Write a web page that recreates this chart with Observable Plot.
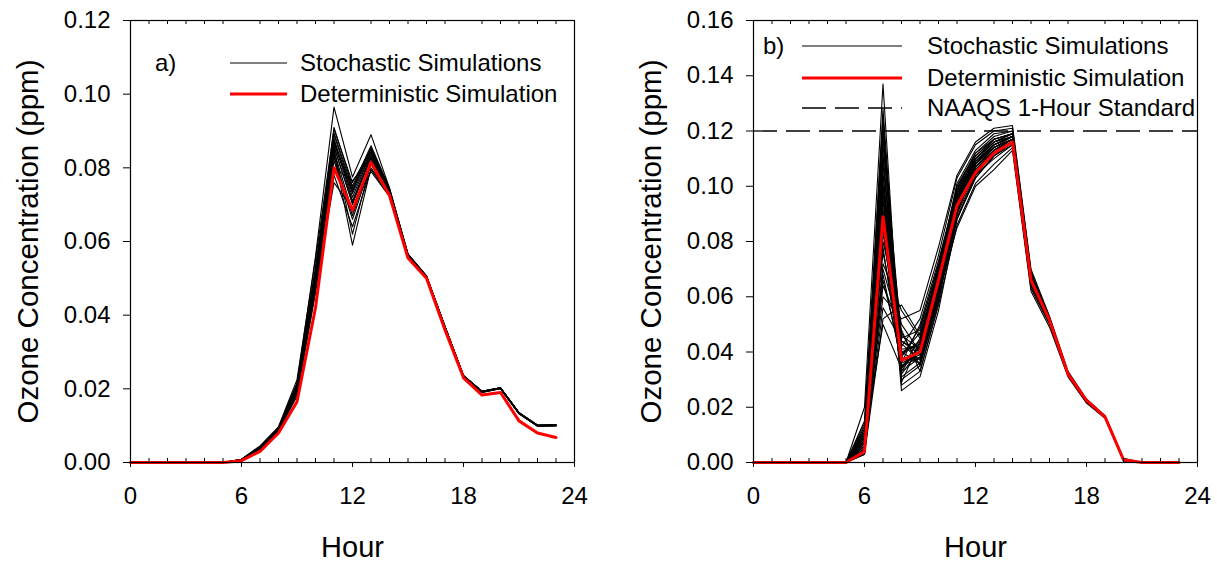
<!DOCTYPE html>
<html><head><meta charset="utf-8">
<script src="https://cdn.jsdelivr.net/npm/d3@7"></script>
<script src="https://cdn.jsdelivr.net/npm/@observablehq/plot@0.6"></script>
<style>
body{margin:0;background:#fff}
#wrap{position:relative;width:1217px;height:565px;overflow:hidden;background:#fff}
#wrap svg{position:absolute;top:0}
</style>
</head><body><div id="wrap"></div>
<script>
// ---------- DATA ----------
const hours = [0,1,2,3,4,5,6,7,8,9,10,11,12,13,14,15,16,17,18,19,20,21,22,23];
const majorHours = [0,6,12,18,24];
const minorHours = [1,2,3,4,5,7,8,9,10,11,13,14,15,16,17,19,20,21,22,23];
const yTicksA = [0,0.02,0.04,0.06,0.08,0.10,0.12];
const yTicksB = [0,0.02,0.04,0.06,0.08,0.10,0.12,0.14,0.16];
const naaqsStandard = 0.12;
const xTitle = "Hour";
const yTitle = "Ozone Concentration (ppm)";
const legendA = ["Stochastic Simulations","Deterministic Simulation"];
const legendB = ["Stochastic Simulations","Deterministic Simulation","NAAQS 1-Hour Standard"];

// Panel a) deterministic
const detA = [0,0,0,0,0,0,0.0005,0.0030,0.0080,0.0165,0.0420,0.0800,0.0685,0.0815,0.0725,0.0555,0.0500,0.0360,0.0230,0.0183,0.0190,0.0113,0.0080,0.0068];
// Panel a) stochastic
const stochA = [
 [0,0,0,0,0,0,0.0008,0.0042,0.0095,0.0215,0.0560,0.0965,0.0775,0.0890,0.0745,0.0566,0.0507,0.0370,0.0236,0.0193,0.0203,0.0135,0.0101,0.0102],
 [0,0,0,0,0,0,0.0007,0.0038,0.0090,0.0205,0.0500,0.0840,0.0590,0.0800,0.0730,0.0562,0.0504,0.0368,0.0235,0.0192,0.0202,0.0134,0.0100,0.0101],
 [0,0,0,0,0,0,0.0009,0.0045,0.0097,0.0225,0.0550,0.0905,0.0760,0.0850,0.0740,0.0565,0.0506,0.0369,0.0236,0.0193,0.0203,0.0135,0.0101,0.0102],
 [0,0,0,0,0,0,0.0008,0.0040,0.0093,0.0210,0.0520,0.0880,0.0720,0.0840,0.0735,0.0563,0.0505,0.0368,0.0235,0.0192,0.0202,0.0134,0.0100,0.0101],
 [0,0,0,0,0,0,0.0007,0.0037,0.0088,0.0195,0.0490,0.0860,0.0700,0.0830,0.0730,0.0562,0.0504,0.0367,0.0234,0.0191,0.0201,0.0133,0.0099,0.0100],
 [0,0,0,0,0,0,0.0008,0.0041,0.0091,0.0200,0.0505,0.0870,0.0740,0.0845,0.0738,0.0564,0.0505,0.0368,0.0235,0.0192,0.0202,0.0134,0.0100,0.0101],
 [0,0,0,0,0,0,0.0006,0.0035,0.0086,0.0185,0.0470,0.0820,0.0660,0.0810,0.0728,0.0561,0.0503,0.0367,0.0234,0.0191,0.0201,0.0133,0.0099,0.0100],
 [0,0,0,0,0,0,0.0007,0.0038,0.0090,0.0198,0.0480,0.0845,0.0680,0.0820,0.0732,0.0562,0.0504,0.0368,0.0235,0.0192,0.0202,0.0134,0.0100,0.0101],
 [0,0,0,0,0,0,0.0008,0.0043,0.0094,0.0215,0.0530,0.0890,0.0735,0.0855,0.0742,0.0565,0.0506,0.0369,0.0236,0.0193,0.0203,0.0135,0.0101,0.0102],
 [0,0,0,0,0,0,0.0006,0.0034,0.0085,0.0180,0.0460,0.0780,0.0640,0.0795,0.0725,0.0560,0.0503,0.0366,0.0233,0.0190,0.0200,0.0132,0.0099,0.0100],
 [0,0,0,0,0,0,0.0007,0.0036,0.0087,0.0190,0.0475,0.0760,0.0690,0.0790,0.0722,0.0560,0.0503,0.0367,0.0234,0.0191,0.0201,0.0133,0.0099,0.0100],
 [0,0,0,0,0,0,0.0008,0.0040,0.0092,0.0205,0.0510,0.0910,0.0750,0.0860,0.0745,0.0565,0.0506,0.0369,0.0236,0.0193,0.0203,0.0135,0.0101,0.0102],
 [0,0,0,0,0,0,0.0007,0.0039,0.0089,0.0200,0.0495,0.0850,0.0620,0.0815,0.0730,0.0562,0.0504,0.0368,0.0235,0.0192,0.0202,0.0134,0.0100,0.0101],
 [0,0,0,0,0,0,0.0008,0.0042,0.0093,0.0210,0.0515,0.0875,0.0710,0.0835,0.0736,0.0563,0.0505,0.0368,0.0235,0.0192,0.0202,0.0134,0.0100,0.0101],
 [0,0,0,0,0,0,0.0007,0.0038,0.0090,0.0202,0.0500,0.0800,0.0765,0.0825,0.0733,0.0562,0.0504,0.0368,0.0235,0.0192,0.0202,0.0134,0.0100,0.0101],
 [0,0,0,0,0,0,0.0008,0.0041,0.0092,0.0208,0.0512,0.0865,0.0730,0.0842,0.0737,0.0563,0.0505,0.0368,0.0235,0.0192,0.0202,0.0134,0.0100,0.0101],
 [0,0,0,0,0,0,0.0007,0.0039,0.0091,0.0203,0.0498,0.0855,0.0705,0.0828,0.0734,0.0562,0.0504,0.0368,0.0235,0.0192,0.0202,0.0134,0.0100,0.0101],
 [0,0,0,0,0,0,0.0008,0.0042,0.0094,0.0212,0.0525,0.0895,0.0745,0.0852,0.0741,0.0564,0.0505,0.0369,0.0236,0.0193,0.0203,0.0135,0.0101,0.0102],
 [0,0,0,0,0,0,0.0007,0.0037,0.0088,0.0196,0.0485,0.0830,0.0670,0.0818,0.0731,0.0561,0.0504,0.0367,0.0234,0.0191,0.0201,0.0133,0.0099,0.0100]
];

// Panel b) deterministic
const detB = [0,0,0,0,0,0,0.0040,0.0890,0.0370,0.0400,0.0660,0.0930,0.1050,0.1120,0.1160,0.0660,0.0515,0.0320,0.0225,0.0165,0.0010,0,0,0];
// Panel b) stochastic
const stochB = [
 [0,0,0,0,0,0,0.020,0.137,0.030,0.035,0.060,0.090,0.108,0.115,0.118,0.067,0.0520,0.0325,0.0225,0.0168,0.0012,0,0,0],
 [0,0,0,0,0,0,0.015,0.125,0.028,0.033,0.058,0.092,0.106,0.113,0.117,0.066,0.0510,0.0320,0.0220,0.0165,0.0010,0,0,0],
 [0,0,0,0,0,0,0.012,0.118,0.033,0.038,0.065,0.095,0.110,0.116,0.119,0.068,0.0520,0.0320,0.0222,0.0166,0.0011,0,0,0],
 [0,0,0,0,0,0,0.008,0.110,0.035,0.040,0.068,0.097,0.109,0.114,0.117,0.066,0.0515,0.0320,0.0220,0.0165,0.0010,0,0,0],
 [0,0,0,0,0,0,0.006,0.105,0.026,0.031,0.055,0.088,0.104,0.112,0.116,0.065,0.0510,0.0320,0.0220,0.0165,0.0010,0,0,0],
 [0,0,0,0,0,0,0.010,0.100,0.040,0.043,0.070,0.100,0.112,0.118,0.120,0.069,0.0525,0.0325,0.0225,0.0167,0.0012,0,0,0],
 [0,0,0,0,0,0,0.004,0.095,0.038,0.036,0.062,0.094,0.107,0.113,0.116,0.066,0.0510,0.0320,0.0220,0.0165,0.0010,0,0,0],
 [0,0,0,0,0,0,0.005,0.090,0.045,0.048,0.072,0.098,0.111,0.117,0.119,0.067,0.0520,0.0320,0.0220,0.0165,0.0010,0,0,0],
 [0,0,0,0,0,0,0.007,0.085,0.032,0.041,0.066,0.091,0.106,0.112,0.116,0.065,0.0510,0.0320,0.0220,0.0165,0.0010,0,0,0],
 [0,0,0,0,0,0,0.003,0.080,0.050,0.040,0.063,0.093,0.105,0.111,0.115,0.064,0.0505,0.0315,0.0218,0.0163,0.0008,0,0,0],
 [0,0,0,0,0,0,0.009,0.076,0.042,0.052,0.075,0.103,0.115,0.120,0.121,0.069,0.0520,0.0325,0.0225,0.0168,0.0013,0,0,0],
 [0,0,0,0,0,0,0.004,0.072,0.055,0.045,0.068,0.096,0.108,0.114,0.118,0.066,0.0515,0.0320,0.0220,0.0165,0.0010,0,0,0],
 [0,0,0,0,0,0,0.006,0.068,0.036,0.050,0.073,0.099,0.110,0.116,0.118,0.067,0.0520,0.0320,0.0220,0.0165,0.0010,0,0,0],
 [0,0,0,0,0,0,0.003,0.064,0.048,0.033,0.057,0.086,0.101,0.108,0.114,0.063,0.0500,0.0315,0.0218,0.0163,0.0008,0,0,0],
 [0,0,0,0,0,0,0.005,0.060,0.052,0.055,0.078,0.104,0.116,0.121,0.122,0.070,0.0530,0.0330,0.0230,0.0170,0.0015,0,0,0],
 [0,0,0,0,0,0,0.004,0.056,0.044,0.039,0.064,0.090,0.104,0.110,0.115,0.064,0.0505,0.0315,0.0220,0.0165,0.0010,0,0,0],
 [0,0,0,0,0,0,0.003,0.052,0.057,0.046,0.069,0.095,0.107,0.113,0.117,0.066,0.0510,0.0320,0.0220,0.0165,0.0010,0,0,0],
 [0,0,0,0,0,0,0.008,0.050,0.034,0.042,0.061,0.085,0.100,0.106,0.113,0.062,0.0490,0.0310,0.0215,0.0160,0.0005,0,0,0],
 [0,0,0,0,0,0,0.011,0.115,0.043,0.037,0.067,0.099,0.112,0.117,0.119,0.068,0.0520,0.0322,0.0222,0.0166,0.0011,0,0,0],
 [0,0,0,0,0,0,0.007,0.098,0.029,0.044,0.071,0.097,0.109,0.115,0.118,0.067,0.0515,0.0320,0.0220,0.0165,0.0010,0,0,0],
 [0,0,0,0,0,0,0.013,0.108,0.047,0.035,0.059,0.089,0.103,0.111,0.116,0.065,0.0510,0.0320,0.0220,0.0165,0.0010,0,0,0],
 [0,0,0,0,0,0,0.009,0.088,0.039,0.047,0.070,0.101,0.113,0.119,0.120,0.068,0.0520,0.0320,0.0220,0.0165,0.0010,0,0,0],
 [0,0,0,0,0,0,0.010,0.122,0.036,0.039,0.064,0.094,0.108,0.115,0.118,0.067,0.0515,0.0320,0.0220,0.0165,0.0010,0,0,0],
 [0,0,0,0,0,0,0.006,0.112,0.031,0.036,0.061,0.092,0.107,0.114,0.117,0.066,0.0510,0.0320,0.0220,0.0165,0.0010,0,0,0],
 [0,0,0,0,0,0,0.012,0.104,0.041,0.042,0.067,0.096,0.109,0.116,0.118,0.067,0.0520,0.0320,0.0220,0.0165,0.0010,0,0,0],
 [0,0,0,0,0,0,0.008,0.096,0.037,0.038,0.063,0.092,0.106,0.113,0.117,0.066,0.0510,0.0320,0.0220,0.0165,0.0010,0,0,0],
 [0,0,0,0,0,0,0.005,0.092,0.034,0.045,0.069,0.098,0.110,0.116,0.119,0.068,0.0520,0.0320,0.0220,0.0165,0.0010,0,0,0],
 [0,0,0,0,0,0,0.009,0.083,0.040,0.036,0.060,0.088,0.103,0.111,0.116,0.065,0.0510,0.0320,0.0220,0.0165,0.0010,0,0,0],
 [0,0,0,0,0,0,0.007,0.078,0.033,0.043,0.066,0.095,0.108,0.115,0.118,0.067,0.0515,0.0320,0.0220,0.0165,0.0010,0,0,0],
 [0,0,0,0,0,0,0.004,0.070,0.046,0.041,0.065,0.094,0.107,0.114,0.117,0.066,0.0510,0.0320,0.0220,0.0165,0.0010,0,0,0],
 [0,0,0,0,0,0,0.014,0.120,0.044,0.040,0.067,0.097,0.110,0.117,0.119,0.068,0.0520,0.0320,0.0220,0.0165,0.0010,0,0,0],
 [0,0,0,0,0,0,0.006,0.066,0.038,0.049,0.071,0.100,0.111,0.117,0.119,0.067,0.0520,0.0320,0.0220,0.0165,0.0010,0,0,0],
 [0,0,0,0,0,0,0.011,0.128,0.035,0.038,0.062,0.091,0.105,0.112,0.116,0.066,0.0510,0.0320,0.0220,0.0165,0.0010,0,0,0],
 [0,0,0,0,0,0,0.007,0.101,0.039,0.044,0.068,0.096,0.109,0.115,0.118,0.067,0.0515,0.0320,0.0220,0.0165,0.0010,0,0,0]
];

// ---------- DRAW ----------
const FONT = "'Liberation Sans', Arial, Helvetica, sans-serif";
const H = 565, MT = 20, MB = 103;
const frameH = H - MT - MB;

function rowsOf(seriesList) {
  const rows = [];
  seriesList.forEach((vals, s) => vals.forEach((v, i) => rows.push({hour: hours[i], value: v, series: s})));
  return rows;
}

function panel({stoch, det, yMax, yTicks, width, marginLeft, marginRight, naaqs}) {
  return Plot.plot({
    width, height: H, marginLeft, marginRight, marginTop: MT, marginBottom: MB,
    style: {fontFamily: FONT, fontSize: "24px", color: "black", background: "transparent", overflow: "visible"},
    x: {domain: [0, 24]},
    y: {domain: [0, yMax]},
    marks: [
      Plot.lineY(rowsOf(stoch), {x: "hour", y: "value", z: "series", stroke: "black", strokeWidth: 1.1}),
      naaqs != null ? Plot.ruleY([naaqs], {stroke: "black", strokeWidth: 1.3, strokeDasharray: "24,9"}) : null,
      Plot.lineY(det.map((v, i) => ({hour: hours[i], value: v})), {x: "hour", y: "value", stroke: "#ff0000", strokeWidth: 3}),
      Plot.frame({stroke: "black", strokeWidth: 1.2}),
      Plot.axisX({ticks: majorHours, tickSize: 5, tickPadding: 19, tickFormat: d => String(d), label: null}),
      Plot.tickX(minorHours, {x: d => d, insetTop: frameH - 4, stroke: "black"}),
      Plot.tickX(minorHours, {x: d => d, insetBottom: frameH - 4, stroke: "black"}),
      Plot.axisY({ticks: yTicks, tickSize: 7, tickPadding: 13, tickFormat: d3.format(".2f"), label: null}),
      Plot.text([yTitle], {text: d => d, frameAnchor: "left", textAnchor: "middle", lineAnchor: "middle", rotate: -90, dx: -102, fontSize: 29.5}),
      Plot.text([xTitle], {text: d => d, frameAnchor: "bottom", textAnchor: "middle", lineAnchor: "middle", dy: 85, fontSize: 29})
    ]
  });
}

function addLegend(svgNode, {tag, tagX, lineX1, lineX2, textX, rows, items, styles}) {
  const svg = d3.select(svgNode);
  const g = svg.append("g").attr("font-family", FONT).attr("font-size", 24).attr("fill", "black").attr("text-anchor", "start");
  g.append("text").attr("x", tagX).attr("y", rows[0]).attr("dy", "0.35em").attr("text-anchor", "start").text(tag);
  items.forEach((label, i) => {
    const st = styles[i];
    g.append("line").attr("x1", lineX1).attr("x2", lineX2).attr("y1", rows[i]).attr("y2", rows[i])
      .attr("stroke", st.stroke).attr("stroke-width", st.width).attr("stroke-dasharray", st.dash || null);
    g.append("text").attr("x", textX).attr("y", rows[i]).attr("dy", "0.35em").attr("text-anchor", "start").text(label);
  });
}

const wrap = document.getElementById("wrap");

const left = panel({stoch: stochA, det: detA, yMax: 0.12, yTicks: yTicksA, width: 620, marginLeft: 130, marginRight: 46});
left.style.left = "0px";
wrap.appendChild(left);
addLegend(left, {tag: "a)", tagX: 155, lineX1: 230, lineX2: 287, textX: 300, rows: [63, 94], items: legendA,
  styles: [{stroke: "black", width: 1.2}, {stroke: "#ff0000", width: 3}]});

const right = panel({stoch: stochB, det: detB, yMax: 0.16, yTicks: yTicksB, width: 597, marginLeft: 133, marginRight: 20, naaqs: naaqsStandard});
right.style.left = "620px";
wrap.appendChild(right);
addLegend(right, {tag: "b)", tagX: 143, lineX1: 182, lineX2: 282, textX: 307, rows: [46, 78, 108], items: legendB,
  styles: [{stroke: "black", width: 1.2}, {stroke: "#ff0000", width: 3}, {stroke: "black", width: 1.3, dash: "24,9"}]});
</script>
</body></html>
